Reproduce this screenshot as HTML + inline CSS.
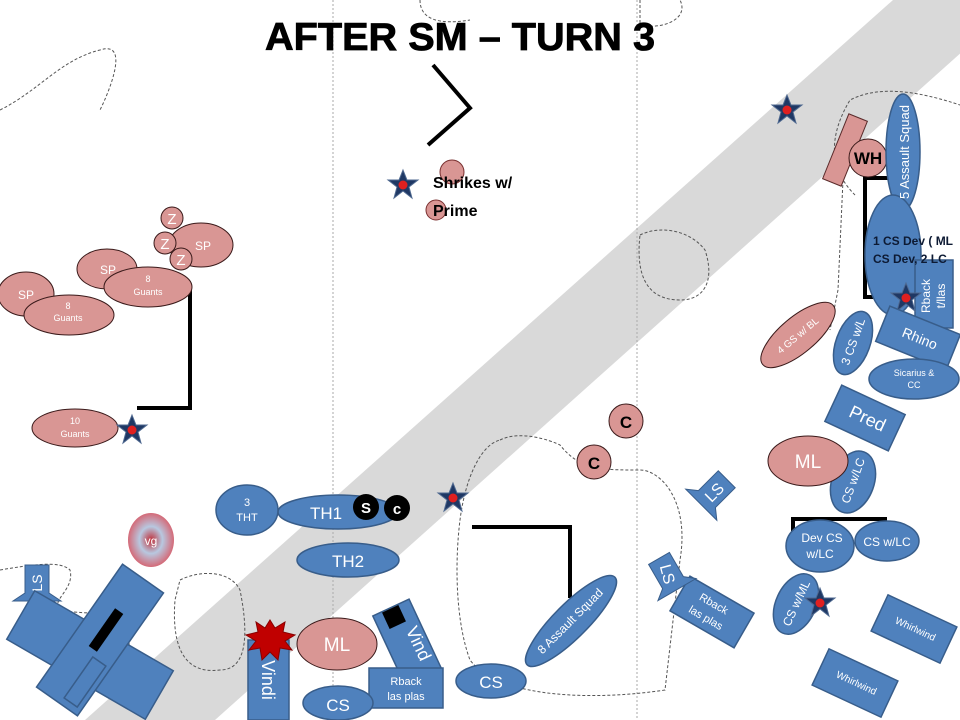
<!DOCTYPE html>
<html><head><meta charset="utf-8"><style>
html,body{margin:0;padding:0;background:#fff}
svg{display:block}
text{font-family:"Liberation Sans",sans-serif}
</style></head><body>
<svg width="960" height="720" viewBox="0 0 960 720" xmlns="http://www.w3.org/2000/svg">
<defs>
<radialGradient id="vg"><stop offset="0" stop-color="#c0303a"/><stop offset="0.5" stop-color="#b8c8e0"/><stop offset="1" stop-color="#d46a78"/></radialGradient>
<g id="star"><polygon points="0,-15 4,-5 15,-5 6,2 9,13 0,6 -9,13 -6,2 -15,-5 -4,-5" fill="#1f3864" stroke="#4f6990" stroke-width="1"/><circle r="4.5" fill="#e02020"/></g>
</defs>
<polygon points="893,0 1020,0 215,720 85,720" fill="#d9d9d9"/>
<line x1="333" y1="0" x2="333" y2="720" stroke="#aaa" stroke-dasharray="2,2"/>
<line x1="637" y1="0" x2="637" y2="720" stroke="#aaa" stroke-dasharray="2,2"/>
<g fill="none" stroke="#555" stroke-dasharray="3,2" stroke-width="1">
<path d="M0,110 C40,90 60,60 100,50 C130,40 110,90 100,110"/>
<path d="M640,0 L640,25 C660,30 690,20 680,0"/>
<path d="M420,0 C420,20 440,25 470,20"/>
<path d="M640,235 C660,225 690,230 705,250 C715,280 705,300 680,300 C650,300 635,280 640,235Z"/>
<path d="M855,195 C840,180 820,150 850,100 C870,90 900,85 960,105"/>
<path d="M843,180 L838,290 L830,330"/>
<path d="M500,440 C520,430 550,440 560,445 C580,470 600,470 640,470 C660,470 690,500 680,560 L665,690 C600,700 500,700 470,660 C455,620 455,560 460,520 C465,480 480,445 500,440Z"/>
<path d="M0,570 C30,565 60,560 70,570 C75,590 50,600 60,610 C80,615 120,610 128,625 L130,660"/>
<path d="M180,580 C200,570 230,570 240,590 C250,640 245,670 220,670 C180,675 172,640 175,600Z"/>
</g>
<text x="460" y="50" text-anchor="middle" font-size="39" font-weight="bold" fill="#000" stroke="#000" stroke-width="0.8" textLength="390" lengthAdjust="spacingAndGlyphs">AFTER SM – TURN 3</text>
<g fill="none" stroke="#000" stroke-width="4">
<polyline points="433,65 470,108 428,145"/>
<polyline points="190,288 190,408 137,408"/>
<polyline points="888,178 865,178 865,297 888,297"/>
<polyline points="793,545 793,519 887,519"/>
<polyline points="472,527 570,527 570,598"/>
</g>
<circle cx="452" cy="172" r="12" fill="#d99694" stroke="#7a3030"/>
<circle cx="436" cy="210" r="10" fill="#d99694" stroke="#7a3030"/>
<use href="#star" x="403" y="185"/>
<text x="433" y="188" font-size="16" font-weight="bold">Shrikes w/</text>
<text x="433" y="216" font-size="16" font-weight="bold">Prime</text>
<g fill="#d99694" stroke="#3a1a1a" stroke-width="1">
<ellipse cx="201" cy="245" rx="32" ry="22"/>
<ellipse cx="107" cy="269" rx="30" ry="20"/>
<ellipse cx="148" cy="287" rx="44" ry="20"/>
<ellipse cx="26" cy="294" rx="28" ry="22"/>
<ellipse cx="69" cy="315" rx="45" ry="20"/>
<circle cx="172" cy="218" r="11"/>
<circle cx="165" cy="243" r="11"/>
<circle cx="181" cy="259" r="11"/>
<ellipse cx="75" cy="428" rx="43" ry="19"/>
</g>
<g fill="#fff" text-anchor="middle">
<text x="203" y="250" font-size="12">SP</text>
<text x="108" y="274" font-size="12">SP</text>
<text x="148" y="282" font-size="9">8</text><text x="148" y="295" font-size="9">Guants</text>
<text x="26" y="299" font-size="12">SP</text>
<text x="68" y="309" font-size="9">8</text><text x="68" y="321" font-size="9">Guants</text>
<text x="172" y="224" font-size="15">Z</text>
<text x="165" y="249" font-size="15">Z</text>
<text x="181" y="265" font-size="15">Z</text>
<text x="75" y="424" font-size="9">10</text><text x="75" y="437" font-size="9">Guants</text>
</g>
<use href="#star" x="132" y="430"/>
<use href="#star" x="787" y="110"/>
<use href="#star" x="453" y="498"/>
<rect x="-10" y="-35" width="20" height="70" fill="#d99694" stroke="#5a2a2a" transform="translate(845,150) rotate(22)"/>
<circle cx="868" cy="158" r="19" fill="#d99694" stroke="#3a1a1a"/>
<text x="868" y="164" font-size="17" font-weight="bold" text-anchor="middle">WH</text>
<g fill="#4f81bd" stroke="#385d8a" stroke-width="1.5">
<ellipse cx="903" cy="152" rx="17" ry="58"/>
<ellipse cx="893" cy="255" rx="28" ry="60"/>
<rect x="915" y="260" width="38" height="68"/>
</g>
<text transform="translate(909,152) rotate(-90)" text-anchor="middle" font-size="13" fill="#fff">5  Assault Squad</text>
<text x="873" y="245" font-size="12" font-weight="bold" fill="#0d1a33">1 CS Dev ( ML</text>
<text x="873" y="263" font-size="12" font-weight="bold" fill="#0d1a33">CS Dev, 2 LC</text>
<text transform="translate(930,296) rotate(-90)" text-anchor="middle" font-size="12" fill="#fff">Rback</text>
<text transform="translate(945,296) rotate(-90)" text-anchor="middle" font-size="12" fill="#fff">t/llas</text>
<use href="#star" x="906" y="298"/>
<ellipse cx="0" cy="0" rx="46" ry="18" fill="#d99694" stroke="#3a1a1a" transform="translate(798,335) rotate(-40)"/>
<text transform="translate(800,338) rotate(-40)" text-anchor="middle" font-size="10" fill="#fff">4 GS w/ BL</text>
<g fill="#4f81bd" stroke="#385d8a" stroke-width="1.5">
<ellipse rx="17" ry="33" transform="translate(853,343) rotate(20)"/>
<rect x="-38" y="-19" width="76" height="38" transform="translate(918,338) rotate(22)"/>
<ellipse cx="914" cy="379" rx="45" ry="20"/>
<rect x="-35" y="-20" width="70" height="40" transform="translate(865,418) rotate(25)"/>
<ellipse rx="21" ry="32" transform="translate(853,482) rotate(20)"/>
<ellipse cx="820" cy="546" rx="34" ry="26"/>
<ellipse cx="887" cy="541" rx="32" ry="20"/>
<ellipse rx="20" ry="32" transform="translate(796,604) rotate(25)"/>
<rect x="-38" y="-20" width="76" height="40" transform="translate(914,629) rotate(25)"/>
<rect x="-38" y="-20" width="76" height="40" transform="translate(855,683) rotate(25)"/>
<rect x="-37" y="-20" width="74" height="40" transform="translate(712,612) rotate(30)"/>
</g>
<ellipse cx="808" cy="461" rx="40" ry="25" fill="#d99694" stroke="#3a1a1a"/>
<text x="808" y="468" font-size="19" fill="#fff" text-anchor="middle">ML</text>
<g fill="#fff" text-anchor="middle">
<text transform="translate(857,343) rotate(-70)" font-size="12">3 CS w/L</text>
<text transform="translate(918,343) rotate(22)" font-size="14">Rhino</text>
<text x="914" y="376" font-size="9">Sicarius &amp;</text><text x="914" y="388" font-size="9">CC</text>
<text transform="translate(865,424) rotate(25)" font-size="18">Pred</text>
<text transform="translate(857,482) rotate(-70)" font-size="12">CS w/LC</text>
<text x="822" y="542" font-size="12">Dev CS</text><text x="820" y="558" font-size="12">w/LC</text>
<text x="887" y="546" font-size="12">CS w/LC</text>
<text transform="translate(800,605) rotate(-65)" font-size="12">CS w/ML</text>
<text transform="translate(914,632) rotate(25)" font-size="10">Whirlwind</text>
<text transform="translate(855,686) rotate(25)" font-size="10">Whirlwind</text>
<text transform="translate(712,607) rotate(30)" font-size="11">Rback</text>
<text transform="translate(704,621) rotate(30)" font-size="11">las plas</text>
</g>
<use href="#star" x="820" y="603"/>
<g transform="translate(714,492) rotate(45)">
<polygon points="-12,-18 12,-18 12,10 22,18 -22,18 -12,10" fill="#4f81bd" stroke="#385d8a"/></g>
<text transform="translate(714,492) rotate(-45)" x="0" y="6" text-anchor="middle" font-size="16" fill="#fff">LS</text>
<g transform="translate(668,574) rotate(-30)">
<polygon points="-12,-18 12,-18 12,10 22,18 -22,18 -12,10" fill="#4f81bd" stroke="#385d8a"/></g>
<text transform="translate(668,574) rotate(75)" x="0" y="6" text-anchor="middle" font-size="16" fill="#fff">LS</text>
<g transform="translate(37,583)">
<polygon points="-12,-18 12,-18 12,10 24,18 -24,18 -12,10" fill="#4f81bd" stroke="#385d8a"/>
<text transform="rotate(-90)" x="0" y="5" text-anchor="middle" font-size="14" fill="#fff">LS</text></g>
<circle cx="626" cy="421" r="17" fill="#d99694" stroke="#3a1a1a"/>
<circle cx="594" cy="462" r="17" fill="#d99694" stroke="#3a1a1a"/>
<text x="626" y="428" font-size="17" font-weight="bold" text-anchor="middle">C</text>
<text x="594" y="469" font-size="17" font-weight="bold" text-anchor="middle">C</text>
<g fill="#4f81bd" stroke="#385d8a" stroke-width="1.5">
<ellipse rx="62" ry="17" transform="translate(571,621) rotate(-45)"/>
<ellipse cx="491" cy="681" rx="35" ry="17"/>
<ellipse cx="338" cy="512" rx="60" ry="17"/>
<ellipse cx="247" cy="510" rx="31" ry="25"/>
<ellipse cx="348" cy="560" rx="51" ry="17"/>
<rect x="-20" y="-38" width="40" height="76" transform="translate(407,642) rotate(-25)"/>
<rect x="369" y="668" width="74" height="40"/>
<ellipse cx="338" cy="703" rx="35" ry="17"/>
<rect x="248" y="640" width="41" height="80"/>
</g>
<rect x="-9" y="-9" width="18" height="18" transform="translate(394,617) rotate(-25)"/>
<g fill="#fff" text-anchor="middle">
<text transform="translate(573,624) rotate(-45)" font-size="12">8 Assault Squad</text>
<text x="491" y="688" font-size="17">CS</text>
<text x="326" y="519" font-size="17">TH1</text>
<text x="247" y="506" font-size="11">3</text><text x="247" y="521" font-size="11">THT</text>
<text x="348" y="567" font-size="17">TH2</text>
<text transform="translate(413,646) rotate(65)" font-size="18">Vind</text>
<text x="406" y="685" font-size="11">Rback</text><text x="406" y="700" font-size="11">las plas</text>
<text x="338" y="711" font-size="17">CS</text>
<text transform="translate(262,680) rotate(90)" text-anchor="middle" font-size="18">Vindi</text>
</g>
<circle cx="366" cy="507" r="13" fill="#000"/><text x="366" y="513" font-size="15" font-weight="bold" fill="#fff" text-anchor="middle">S</text>
<circle cx="397" cy="508" r="13" fill="#000"/><text x="397" y="514" font-size="15" font-weight="bold" fill="#fff" text-anchor="middle">c</text>
<ellipse cx="337" cy="644" rx="40" ry="26" fill="#d99694" stroke="#3a1a1a"/>
<text x="337" y="651" font-size="19" fill="#fff" text-anchor="middle">ML</text>
<polygon points="270,620 275,628 285,622 283,632 295,635 285,641 292,650 280,648 278,660 270,652 262,660 260,648 249,650 256,641 246,635 258,632 256,622 265,628" fill="#c00000" stroke="#800"/>
<ellipse cx="151" cy="540" rx="23" ry="27" fill="url(#vg)"/>
<text x="151" y="545" font-size="12" fill="#fff" text-anchor="middle">vg</text>
<g fill="#4f81bd" stroke="#385d8a" stroke-width="1.5">
<rect x="-80" y="-28" width="160" height="56" transform="translate(90,655) rotate(30)"/>
<rect x="-25" y="-75" width="50" height="150" transform="translate(100,640) rotate(35)"/>
<rect x="-8" y="-25" width="16" height="50" transform="translate(85,682) rotate(35)"/>
</g>
<rect x="-5" y="-23" width="10" height="46" transform="translate(106,630) rotate(35)" fill="#000"/>
</svg>
</body></html>
